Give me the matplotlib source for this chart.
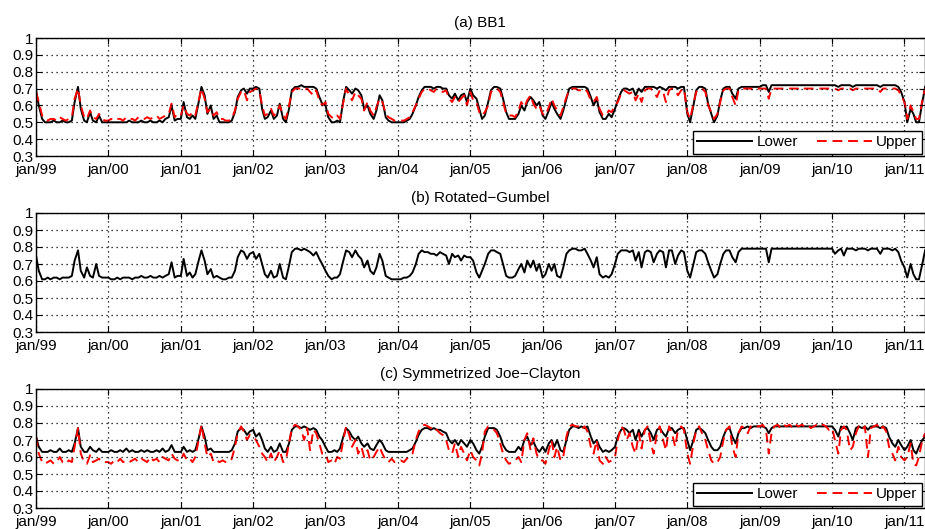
import matplotlib
matplotlib.use("Agg")
import matplotlib.pyplot as plt
import pandas as pd
import numpy as np

plt.rcParams['font.family'] = ['Liberation Sans', 'DejaVu Sans']

# ---- data (values in hundredths, semi-monthly samples from Jan 1999) ----
bb1_lower = [
    69,60,52,50,50,50,51,50,50,51,50,50,51,62,71,58,51,50,56,51,50,54,50,50,
    50,50,50,50,50,50,50,51,50,50,50,51,50,50,51,50,50,51,50,52,53,60,51,52,
    52,62,53,52,54,52,62,71,66,55,60,52,54,50,50,50,50,51,56,65,69,70,67,70,
    70,71,70,58,52,53,57,52,54,61,52,50,58,69,71,71,72,71,71,71,71,70,65,61,
    60,53,50,50,51,50,63,71,69,67,70,69,66,58,60,55,52,57,66,63,53,51,50,50,
    50,50,50,51,52,55,60,65,69,71,71,71,70,71,71,70,70,66,64,67,63,66,67,62,
    70,66,64,58,52,54,62,69,71,71,70,64,56,52,52,52,55,60,57,62,65,63,60,62,
    54,52,57,62,58,55,52,57,64,70,71,71,71,71,71,70,65,60,64,56,52,52,55,53,
    58,63,68,70,70,69,70,66,70,68,71,71,71,71,70,71,70,69,71,71,71,70,71,71,
    55,50,60,69,71,71,70,61,55,50,54,63,70,71,71,67,64,70,71,71,71,71,71,71,
    71,72,72,68,72,72,72,72,72,72,72,72,72,72,72,72,72,72,72,72,72,72,72,72,
    72,72,71,72,72,72,72,71,72,72,72,72,72,72,72,72,71,72,72,72,72,72,71,68,
    62,50,58,55,50,50,62,71,
]
bb1_upper = [
    68,62,54,52,51,52,52,51,53,52,51,52,53,64,70,60,53,52,57,53,52,55,52,51,
    51,52,51,52,52,51,53,52,52,51,53,52,52,53,52,53,54,52,53,54,55,61,53,55,
    54,60,55,54,56,54,63,70,64,56,58,54,56,52,52,51,51,52,57,64,68,69,63,68,
    69,70,69,60,54,55,58,54,56,60,54,52,60,68,70,70,70,69,70,68,66,69,63,60,
    62,55,53,52,54,52,62,70,66,63,68,66,64,57,62,57,54,59,64,62,55,53,52,51,
    51,51,51,52,53,56,60,64,68,70,70,69,68,70,69,68,69,64,62,65,62,64,66,60,
    68,63,62,56,54,56,60,68,70,70,68,62,55,54,54,53,57,62,59,63,66,61,58,60,
    55,54,59,64,60,57,54,59,65,69,70,70,69,69,70,68,63,62,65,58,54,54,57,56,
    60,62,67,69,68,67,68,63,67,62,69,70,70,68,65,69,68,62,69,70,69,66,69,70,
    56,52,61,68,70,70,68,60,56,52,55,62,69,70,70,65,60,69,70,70,70,70,69,70,
    70,70,70,64,70,70,70,70,70,70,70,70,70,70,71,70,70,70,70,70,70,70,70,70,
    70,70,69,70,70,70,70,69,70,70,70,70,70,70,70,70,68,70,70,70,70,70,69,66,
    62,52,60,56,52,52,63,70,
]
rg = [
    75,66,61,61,62,61,62,62,61,62,62,62,63,72,78,66,62,68,63,62,70,63,62,62,
    62,61,61,62,61,62,62,62,61,62,62,63,62,62,63,62,62,63,62,63,64,71,62,63,
    63,73,63,65,62,64,72,78,72,64,67,62,63,62,61,61,62,62,66,74,78,77,73,76,
    77,73,76,70,64,62,66,62,63,70,62,61,69,77,79,79,78,79,78,77,75,77,73,70,
    66,63,61,62,62,64,72,78,77,74,78,75,73,68,72,66,64,68,76,72,63,62,61,61,
    61,61,62,62,63,65,70,76,78,77,77,76,76,75,77,76,75,70,76,74,75,72,75,74,
    74,72,65,62,66,70,76,78,78,77,76,70,63,62,62,63,67,70,65,72,68,72,66,70,
    62,64,70,66,70,63,62,68,76,78,79,79,78,78,79,76,72,68,74,64,62,63,62,64,
    70,76,78,78,78,77,78,72,77,68,77,78,77,71,76,78,77,68,78,78,70,75,78,77,
    66,62,70,77,78,78,76,71,66,62,64,70,76,78,78,74,71,77,79,79,79,79,79,79,
    79,79,79,71,79,79,79,79,79,79,79,79,79,79,79,79,79,79,79,79,79,79,79,79,
    79,76,78,79,75,79,79,79,78,79,79,79,78,79,79,79,76,79,79,79,78,79,77,72,
    68,62,70,64,61,61,70,78,
]
sjc_lower = [
    72,66,63,63,63,64,63,63,65,63,63,64,63,68,77,66,63,63,66,64,63,65,63,63,
    63,64,63,63,64,63,65,63,64,63,63,64,63,64,63,63,64,63,65,63,64,67,63,63,
    63,66,63,64,63,64,71,78,72,64,65,63,63,63,63,63,63,64,68,75,77,76,73,75,
    76,72,74,70,65,63,66,63,64,68,63,63,68,76,78,78,77,78,77,76,77,76,72,70,
    66,63,63,64,63,65,72,77,75,72,70,72,68,66,68,65,64,67,70,68,64,63,63,63,
    63,63,63,63,64,65,69,73,76,77,77,76,77,76,76,75,74,70,68,70,67,70,68,66,
    70,68,64,62,66,72,77,77,77,76,72,67,64,63,63,63,66,64,70,72,67,69,65,63,
    66,63,68,70,66,70,64,63,70,76,78,78,77,78,77,78,72,68,70,66,63,64,63,64,
    66,72,76,77,76,74,76,70,76,72,76,77,74,70,76,77,74,72,77,77,74,76,77,77,
    70,64,70,76,77,76,74,70,66,64,64,66,72,76,77,72,68,74,77,77,78,77,78,78,
    78,78,77,74,77,78,78,78,78,78,78,78,78,78,78,78,78,78,78,78,78,78,78,78,
    78,76,72,78,77,78,74,70,77,78,77,78,76,78,78,78,77,78,77,72,68,66,70,67,
    64,66,70,64,62,66,70,72,
]
sjc_upper = [
    72,62,57,56,57,58,56,57,60,57,56,58,57,66,77,62,57,56,61,57,58,59,57,57,
    57,56,58,57,59,57,58,57,58,59,57,59,58,57,60,58,59,57,60,59,58,62,59,58,
    58,62,58,59,57,60,70,79,68,60,62,57,58,57,58,57,57,59,66,74,78,75,70,73,
    72,70,66,62,60,57,62,57,60,64,57,58,68,77,79,78,76,70,77,64,76,74,68,62,
    62,57,58,56,60,59,70,78,73,66,70,62,66,60,64,58,60,63,66,62,58,57,59,57,
    57,58,57,59,60,62,70,75,78,79,78,77,78,76,74,73,70,64,62,68,60,66,62,58,
    64,60,58,55,62,75,78,77,76,74,68,62,58,56,57,58,60,57,70,74,64,71,62,58,
    58,56,64,70,60,66,58,60,72,78,79,78,78,76,78,75,66,62,70,58,56,60,57,58,
    60,70,78,76,70,74,66,62,74,65,76,78,68,62,74,78,70,64,78,74,66,76,78,76,
    62,56,68,76,78,74,70,64,58,56,57,60,70,76,78,66,60,74,78,77,74,78,77,78,
    78,79,76,62,74,78,79,77,79,78,79,77,79,78,79,78,79,77,78,79,78,79,78,76,
    77,70,62,76,78,76,64,66,74,78,76,78,60,77,78,79,76,78,75,66,62,58,66,60,
    58,60,68,56,55,60,70,74,
]

titles = ['(a) BB1', '(b) Rotated\u2212Gumbel', '(c) Symmetrized Joe\u2212Clayton']
legend_labels = ['Lower', 'Upper']
tick_years = list(range(1999, 2012))
tick_labels = ['jan/%02d' % (y % 100) for y in tick_years]
y_ticks = [0.3, 0.4, 0.5, 0.6, 0.7, 0.8, 0.9, 1.0]
y_labels = ['0.3', '0.4', '0.5', '0.6', '0.7', '0.8', '0.9', '1']

for name, s in [('bb1_lower', bb1_lower), ('bb1_upper', bb1_upper), ('rg', rg),
                ('sjc_lower', sjc_lower), ('sjc_upper', sjc_upper)]:
    assert len(s) == 296, (name, len(s))

dates = pd.date_range('1999-01-01', periods=296, freq='SMS')

def v(s):
    return np.asarray(s) / 100.0

fig = plt.figure(figsize=(9.25, 5.29), dpi=100)
W, H = 925.0, 529.0
boxes = [(38, 156), (213, 332), (389, 508)]
axes = []
for (top, bot) in boxes:
    ax = fig.add_axes([36 / W, (H - bot) / H, (924.5 - 36) / W, (bot - top) / H])
    axes.append(ax)

DASH = (0, (5, 3))
series = [
    [(bb1_lower, 'k', '-'), (bb1_upper, 'r', DASH)],
    [(rg, 'k', '-')],
    [(sjc_lower, 'k', '-'), (sjc_upper, 'r', DASH)],
]

xmin = pd.Timestamp('1999-01-01')
xmax = pd.Timestamp('2011-04-12')
for i, ax in enumerate(axes):
    for s, c, ls in series[i]:
        ax.plot(dates, v(s), color=c, linestyle=ls, linewidth=1.4)
    ax.set_xlim(xmin, xmax)
    ax.set_ylim(0.3, 1.0)
    ax.set_yticks(y_ticks)
    ax.set_yticklabels(y_labels)
    ax.set_xticks([pd.Timestamp('%d-01-01' % y) for y in tick_years])
    ax.set_xticklabels(tick_labels)
    ax.tick_params(direction='in', length=4, width=0.8, labelsize=11,
                   top=True, right=True)
    ax.tick_params(axis='x', pad=5)
    ax.tick_params(axis='y', pad=2)
    ax.grid(True, color='k', linestyle=(0, (1, 3)), linewidth=0.9)
    ax.set_axisbelow(False)
    for sp in ax.spines.values():
        sp.set_linewidth(1.0)
        sp.set_color('k')
    ax.set_title(titles[i], fontsize=11, pad=8)
    if len(series[i]) == 2:
        leg = ax.legend(legend_labels, loc='lower right', ncol=2, fontsize=11,
                        handlelength=3.6, handletextpad=0.3, columnspacing=1.2,
                        borderaxespad=0.15, borderpad=0.3, fancybox=False,
                        framealpha=1, edgecolor='k')
        leg.get_frame().set_linewidth(1.0)

fig.savefig('out.png', dpi=100)
